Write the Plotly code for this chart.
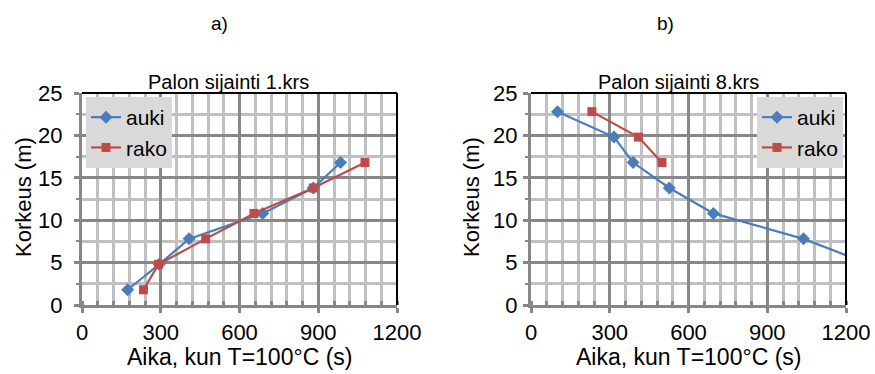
import plotly.graph_objects as go

# Height of measurement points (m)
korkeus_1 = [1.8, 4.8, 7.8, 10.8, 13.8, 16.8]
# Time to reach 100 °C (s), fire on 1st floor
auki_1 = [174, 294, 408, 688, 881, 985]
rako_1 = [234, 292, 471, 655, 881, 1078]

# Fire on 8th floor
korkeus_8_auki = [22.8, 19.8, 16.8, 13.8, 10.8, 7.8, 4.8]
auki_8 = [101, 316, 389, 527, 695, 1038, 1290]
korkeus_8_rako = [22.8, 19.8, 16.8]
rako_8 = [232, 409, 499]

x_ticks = [0, 300, 600, 900, 1200]
y_ticks = [0, 5, 10, 15, 20, 25]

BLUE = "#4a7ebb"
RED = "#be4b48"
MAJOR = "#878787"
MINOR = "#c0c0c0"
FONT = "Liberation Sans, Arial, sans-serif"

W, H = 875, 374


def px_x(p):
    return p / W


def px_y(p):
    return 1 - p / H


fig = go.Figure()

fig.add_trace(go.Scatter(x=auki_1, y=korkeus_1, name="auki", mode="lines+markers",
                         line=dict(color=BLUE, width=2.2),
                         marker=dict(symbol="diamond", size=10, color=BLUE),
                         xaxis="x", yaxis="y", legend="legend"))
fig.add_trace(go.Scatter(x=rako_1, y=korkeus_1, name="rako", mode="lines+markers",
                         line=dict(color=RED, width=2.2),
                         marker=dict(symbol="square", size=9, color=RED),
                         xaxis="x", yaxis="y", legend="legend"))
fig.add_trace(go.Scatter(x=auki_8, y=korkeus_8_auki, name="auki", mode="lines+markers",
                         line=dict(color=BLUE, width=2.2),
                         marker=dict(symbol="diamond", size=10, color=BLUE),
                         xaxis="x2", yaxis="y2", legend="legend2"))
fig.add_trace(go.Scatter(x=rako_8, y=korkeus_8_rako, name="rako", mode="lines+markers",
                         line=dict(color=RED, width=2.2),
                         marker=dict(symbol="square", size=9, color=RED),
                         xaxis="x2", yaxis="y2", legend="legend2"))

ydom = [px_y(305), px_y(93)]


def xaxis_cfg(dom, anchor):
    return dict(domain=dom, anchor=anchor, range=[0, 1200],
                tickvals=x_ticks, ticktext=[str(v) for v in x_ticks],
                showgrid=True, gridcolor=MAJOR, gridwidth=3,
                ticks="outside", ticklen=5, tickwidth=3, tickcolor=MAJOR,
                ticklabelstandoff=1,
                minor=dict(dtick=60, tick0=0, showgrid=True, gridcolor=MINOR, gridwidth=3,
                           ticks="inside", ticklen=4, tickwidth=3, tickcolor=MAJOR),
                showline=True, linecolor=MAJOR, linewidth=3, zeroline=False,
                tickfont=dict(family=FONT, size=22, color="black"), fixedrange=True)


def yaxis_cfg(anchor, standoff):
    return dict(domain=ydom, anchor=anchor, range=[0, 25],
                tickvals=y_ticks, ticktext=[str(v) for v in y_ticks],
                showgrid=True, gridcolor=MAJOR, gridwidth=3,
                ticks="outside", ticklen=5, tickwidth=3, tickcolor=MAJOR,
                ticklabelstandoff=standoff,
                minor=dict(dtick=2.5, tick0=0, showgrid=True, gridcolor=MINOR, gridwidth=3,
                           ticks="outside", ticklen=3, tickwidth=2, tickcolor=MAJOR),
                showline=True, linecolor=MAJOR, linewidth=3, zeroline=False,
                tickfont=dict(family=FONT, size=22, color="black"), fixedrange=True)


legend_common = dict(bgcolor="#d9d9d9", borderwidth=0,
                     font=dict(family=FONT, size=21, color="black"),
                     xanchor="left", yanchor="top", itemwidth=30,
                     tracegroupgap=0)

fig.update_layout(
    width=W, height=H,
    margin=dict(l=0, r=0, t=0, b=0, autoexpand=False),
    paper_bgcolor="white", plot_bgcolor="white",
    xaxis=xaxis_cfg([px_x(82), px_x(397)], "y"),
    yaxis=yaxis_cfg("x", 7),
    xaxis2=xaxis_cfg([px_x(531), px_x(846)], "y2"),
    yaxis2=yaxis_cfg("x2", 1),
    legend=dict(x=px_x(86), y=px_y(97), **legend_common),
    legend2=dict(x=px_x(757), y=px_y(97), **legend_common),
    showlegend=True,
)

# Black frame on top and right of each plot area
for xr, yr in (("x domain", "y domain"), ("x2 domain", "y2 domain")):
    fig.add_shape(type="line", xref=xr, yref=yr, x0=0, x1=1, y0=1, y1=1,
                  line=dict(color="black", width=2))
    fig.add_shape(type="line", xref=xr, yref=yr, x0=1, x1=1, y0=0, y1=1,
                  line=dict(color="black", width=2))

annotations = [
    ("a)", 219, 23, 19, 0),
    ("b)", 665, 23, 19, 0),
    ("Palon sijainti 1.krs", 228, 82, 20, 0),
    ("Palon sijainti 8.krs", 678, 82, 20, 0),
    ("Aika, kun T=100°C (s)", 239, 357, 23, 0),
    ("Aika, kun T=100°C (s)", 688, 357, 23, 0),
    ("Korkeus (m)", 23, 197, 22, -90),
    ("Korkeus (m)", 471, 197, 22, -90),
]
for text, x, y, size, ang in annotations:
    fig.add_annotation(text=text, x=px_x(x), y=px_y(y), xref="paper", yref="paper",
                       xanchor="center", yanchor="middle", showarrow=False,
                       textangle=ang, font=dict(family=FONT, size=size, color="black"))

fig.write_html("out.html")
